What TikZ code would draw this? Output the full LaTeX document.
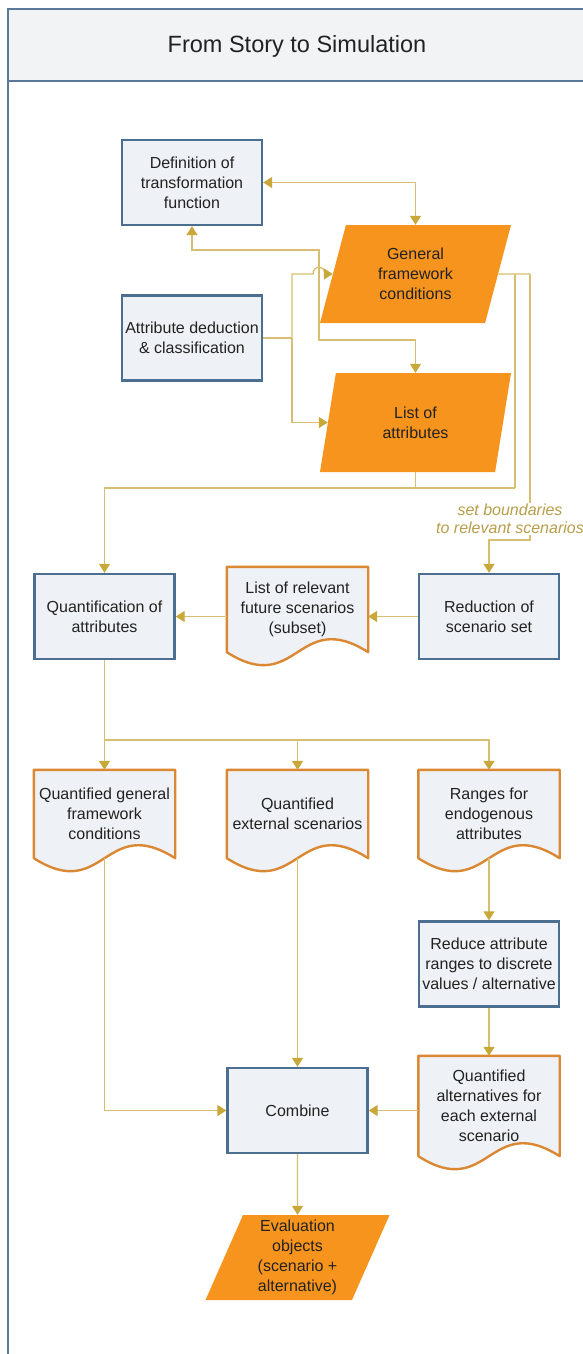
\documentclass[tikz,border=0pt]{standalone}
\usepackage{fontspec}
\setmainfont{Liberation Sans}
\usetikzlibrary{arrows.meta,shapes.geometric,calc,backgrounds}

\definecolor{frameblue}{HTML}{5A7999}
\definecolor{boxblue}{HTML}{4C6E90}
\definecolor{boxfill}{HTML}{EEF1F5}
\definecolor{headfill}{HTML}{F2F3F5}
\definecolor{docorange}{HTML}{DA8833}
\definecolor{paraorange}{HTML}{F7941E}
\definecolor{linkgold}{HTML}{D6BF70}
\definecolor{tipgold}{HTML}{C9A83A}
\definecolor{labelgold}{HTML}{B89D4A}
\definecolor{ink}{HTML}{222222}

% outline of a document shape around a named node, wavy bottom edge
\newcommand\docoutline[1]{%
  \path[docline] (#1.north west) -- (#1.south west)
    .. controls ($(#1.south)+(0,45)$) and ($(#1.south)+(0,-45)$) .. (#1.south east)
    -- (#1.north east) -- cycle;}

\begin{document}
\begin{tikzpicture}[x=1pt,y=-1pt,
  every node/.style={text=ink, font=\fontsize{16}{20}\selectfont, align=center},
  procbox/.style={draw=boxblue, line width=2.4pt, fill=boxfill,
    minimum width=140, minimum height=85, inner sep=0pt},
  docbox/.style={minimum width=141, minimum height=#1, inner sep=0pt},
  docline/.style={draw=docorange, line width=2.4pt, fill=boxfill, line join=round},
  databox/.style={shape=trapezium, trapezium left angle=63.4, trapezium right angle=116.6,
    trapezium stretches body, fill=paraorange, inner sep=0pt,
    minimum width=#1},
  notetext/.style={font=\fontsize{16}{18}\selectfont\itshape, text=labelgold, inner sep=1pt},
  link/.style={draw=linkgold, line width=1.4pt},
  arrowto/.style={-{Triangle[width=11pt,length=9pt,color=tipgold]}},
  arrowboth/.style={{Triangle[width=11pt,length=9pt,color=tipgold]}-{Triangle[width=11pt,length=9pt,color=tipgold]}},
]
\useasboundingbox (0,0) rectangle (582,1354);

% page frame with title band
\begin{scope}[on background layer]
  \fill[white] (0,0) rectangle (582,1354);
  \fill[headfill] (8,9) rectangle (600,81);
  \draw[frameblue, line width=2.6pt] (600,9) -- (8,9) -- (8,1370);
  \draw[frameblue, line width=2.6pt] (8,81) -- (600,81);
\end{scope}
\node[font=\fontsize{23.5}{28}\selectfont] (title) at (297,46) {From Story to Simulation};

% upper block
\node[procbox] (def) at (192,182.5) {Definition of\\transformation\\function};
\node[procbox] (attr) at (192,338) {Attribute deduction\\\& classification};
\node[databox=191, minimum height=98] (gfc) at (415.5,274) {General\\framework\\conditions};
\node[databox=191, minimum height=99] (lst) at (415.5,422.5) {List of\\attributes};

% scenario row
\node[procbox] (quant) at (104.5,616.5) {Quantification of\\attributes};
\node[docbox=85] (lrel) at (297.5,609.5) {List of relevant\\future scenarios\\(subset)};
\node[procbox] (red) at (489,616.5) {Reduction of\\scenario set};
\node[notetext] (bound) at (510,519) {set boundaries\\to relevant scenarios};

% quantified outputs
\node[docbox=88] (d1) at (104.5,814) {Quantified general\\framework\\conditions};
\node[docbox=88] (d2) at (297.5,814) {Quantified\\external scenarios};
\node[docbox=88] (d3) at (489,814) {Ranges for\\endogenous\\attributes};
\node[procbox] (redu) at (489,964) {Reduce attribute\\ranges to discrete\\values / alternative};
\node[docbox=100] (d4) at (489,1106) {Quantified\\alternatives for\\each external\\scenario};
\node[procbox] (comb) at (297.5,1110.5) {Combine};
\node[databox=184, minimum height=85] (eval) at (297.5,1257.5) {Evaluation\\objects\\(scenario +\\alternative)};

\begin{scope}[on background layer]
  \docoutline{lrel}
  \docoutline{d1}
  \docoutline{d2}
  \docoutline{d3}
  \docoutline{d4}
\end{scope}

% junction points of the connectors
\coordinate (bendA) at (319,250);
\coordinate (bendB) at (319,340);
\coordinate (attrjoin) at (292,338);
\coordinate (hopin) at (313,274);
\coordinate (hopout) at (325,274);
\coordinate (rjoinA) at (515,274);
\coordinate (rjoinB) at (530,274);
\coordinate (busA) at (515,488);
\coordinate (fork) at (104.5,740);

% upper block connectors
\draw[link, arrowboth] (def.east) -| (gfc.north);
\draw[link, arrowboth] (def.south) |- (bendA) -- (bendB) -| (lst.north);
\draw[link] (attr.east) -- (attrjoin);
\draw[link, arrowto] (attrjoin) |- (hopin)
  .. controls +(0,-9) and +(0,-9) .. (hopout) -- (gfc);
\draw[link, arrowto] (attrjoin) |- (lst);
\draw[link] (gfc) -- (rjoinB);
\draw[link] (rjoinA) -- (busA);
\draw[link, arrowto] (busA) -| (quant.north);
\draw[link] (lst.south) -- (lst.south |- busA);
\draw[link] (rjoinB) -- (rjoinB |- bound.north);
\draw[link, arrowto] (bound.south -| rjoinB) -- ++(0,5) -| (red.north);

% scenario row connectors
\draw[link, arrowto] (red.west) -- (red.west -| lrel.east);
\draw[link, arrowto] (lrel.west |- quant.east) -- (quant.east);
\draw[link] (quant.south) -- (fork);
\draw[link, arrowto] (fork) -- (d1.north);
\draw[link, arrowto] (fork) -| (d2.north);
\draw[link, arrowto] (fork) -| (d3.north);

% lower connectors
\draw[link, arrowto] (d3.south) -- (redu.north);
\draw[link, arrowto] (redu.south) -- (d4.north);
\draw[link, arrowto] (d1.south) |- (comb.west);
\draw[link, arrowto] (d2.south) -- (comb.north);
\draw[link, arrowto] (d4.west |- comb.east) -- (comb.east);
\draw[link, arrowto] (comb.south) -- (eval.north);
\end{tikzpicture}
\end{document}
